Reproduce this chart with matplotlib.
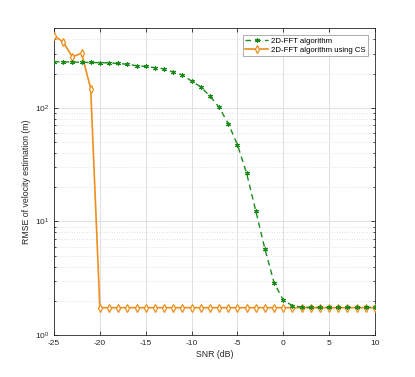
import numpy as np
import matplotlib
matplotlib.use("Agg")
import matplotlib.pyplot as plt
from matplotlib.ticker import LogLocator, NullFormatter

plt.rcParams['font.family'] = ['Liberation Sans', 'DejaVu Sans']

snr = list(range(-25, 11))
fft_rmse = [255, 254, 253, 252, 251, 250, 249, 246, 242, 235, 232, 226,
            220, 207, 195, 172, 153, 127, 101, 72.8, 47.4, 26.6, 12.4,
            5.7, 2.88, 2.03, 1.81, 1.76, 1.75, 1.75, 1.75, 1.75, 1.75, 1.75, 1.75, 1.75]
cs_rmse = [433, 380, 281, 303, 148] + [1.74] * 31

labels = ['2D-FFT algorithm', '2D-FFT algorithm using CS']
xticks = [-25, -20, -15, -10, -5, 0, 5, 10]

green = '#1a8a1a'
orange = '#ec8f1c'

fig = plt.figure(figsize=(4.15, 3.77), dpi=100)
ax = fig.add_axes([54/415, 1-335/377, (375-54)/415, (335-28)/377])

l1, = ax.plot(snr, fft_rmse, linestyle=(0, (4, 3)), color=green, lw=1.0,
              marker=(6, 2, 0), markersize=3.5, markeredgewidth=0.8, zorder=4)
l2, = ax.plot(snr, cs_rmse, linestyle='-', color=orange, lw=1.2,
              marker='d', markersize=4.2, markerfacecolor='white',
              markeredgecolor=orange, markeredgewidth=0.9, zorder=3)

ax.set_yscale('log')
ax.set_xlim(-25, 10)
ax.set_ylim(1, 505)
ax.set_xticks(xticks)
ax.set_xticklabels([str(t) for t in xticks])
ax.yaxis.set_major_locator(LogLocator(base=10, numticks=10))
ax.yaxis.set_minor_locator(LogLocator(base=10, subs=np.arange(2, 10), numticks=20))
ax.yaxis.set_minor_formatter(NullFormatter())

ax.grid(True, which='major', color='#e0e0e0', lw=0.7, linestyle='-')
ax.grid(True, which='minor', axis='y', color='#d8d8d8', lw=0.6, linestyle=(0, (1, 2)))
ax.set_axisbelow(True)

ax.tick_params(which='both', direction='in', top=True, right=True,
               labelsize=6, colors='#262626', width=0.6)
ax.tick_params(which='major', length=3)
ax.tick_params(which='minor', length=1.6)
for s in ax.spines.values():
    s.set_color('#262626')
    s.set_linewidth(0.6)

ax.set_xlabel('SNR (dB)', fontsize=6.3, color='#262626', labelpad=2)
ax.set_ylabel('RMSE of velocity estimation (m)', fontsize=6.3, color='#262626', labelpad=3)

leg = ax.legend([l1, l2], labels, loc='upper right', fontsize=5.6,
                frameon=True, fancybox=False, edgecolor='#8c8c8c',
                framealpha=1, borderpad=0.3, handlelength=2.9,
                handletextpad=0.4, labelspacing=0.2, borderaxespad=0,
                bbox_to_anchor=(0.978, 0.977))
leg.get_frame().set_linewidth(0.5)

fig.savefig('out.png', dpi=100)
